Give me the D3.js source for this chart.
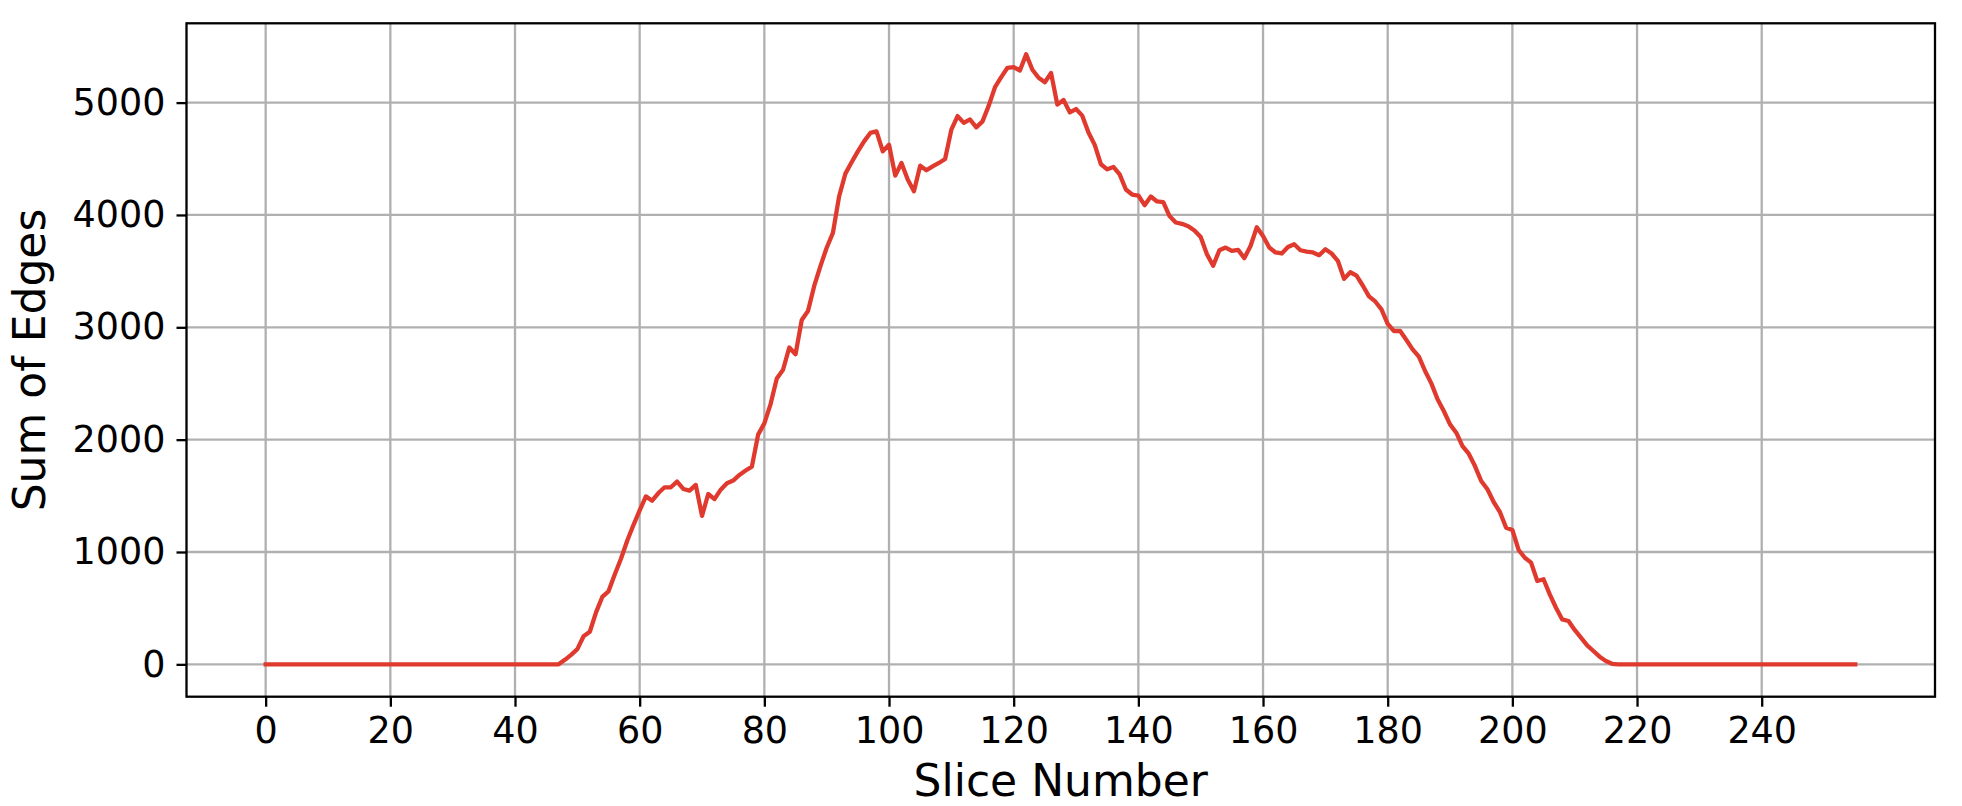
<!DOCTYPE html>
<html>
<head>
<meta charset="utf-8">
<script src="https://cdn.jsdelivr.net/npm/d3@7"></script>
<style>
  html, body { margin: 0; padding: 0; background: #fff; }
  svg text { font-family: "DejaVu Sans", sans-serif; fill: #000; }
</style>
</head>
<body>
<div class="chart"></div>
<script>
let edgeSums = [
  0, 0, 0, 0, 0, 0, 0, 0, 0, 0,
  0, 0, 0, 0, 0, 0, 0, 0, 0, 0,
  0, 0, 0, 0, 0, 0, 0, 0, 0, 0,
  0, 0, 0, 0, 0, 0, 0, 0, 0, 0,
  0, 0, 0, 0, 0, 0, 0, 0, 40, 85,
  135, 250, 290, 463, 600, 650, 800, 940, 1100, 1240,
  1370, 1495, 1457, 1525, 1576, 1576, 1627, 1561, 1546, 1597,
  1322, 1516, 1471, 1555, 1612, 1636, 1686, 1725, 1760, 2045,
  2145, 2317, 2545, 2622, 2820, 2760, 3065, 3145, 3368, 3545,
  3708, 3841, 4167, 4368, 4469, 4566, 4655, 4730, 4744, 4566,
  4625, 4350, 4463, 4315, 4211, 4439, 4398, 4433, 4463, 4498,
  4760, 4880, 4820, 4850, 4780, 4833, 4973, 5137, 5227, 5310,
  5316, 5286, 5430, 5293, 5221, 5182, 5263, 4982, 5024, 4913,
  4943, 4884, 4734, 4624, 4451, 4406, 4427, 4361, 4227, 4182,
  4173, 4087, 4164, 4120, 4114, 3990, 3933, 3921, 3900, 3862,
  3803, 3651, 3548, 3686, 3710, 3680, 3689, 3616, 3724, 3891,
  3812, 3710, 3666, 3657, 3715, 3739, 3686, 3674, 3666, 3642,
  3695, 3657, 3592, 3431, 3490, 3460, 3372, 3276, 3230, 3160,
  3030, 2967, 2967, 2887, 2804, 2739, 2611, 2501, 2359, 2255,
  2136, 2062, 1943, 1875, 1765, 1632, 1558, 1445, 1356, 1216,
  1196, 1018, 949, 905, 742, 757, 623, 504, 400, 386,
  306, 237, 169, 119, 68, 30, 5, 0, 0, 0,
  0, 0, 0, 0, 0, 0, 0, 0, 0, 0,
  0, 0, 0, 0, 0, 0, 0, 0, 0, 0,
  0, 0, 0, 0, 0, 0, 0, 0, 0, 0,
  0, 0, 0, 0, 0, 0
]
let xTicks = [0, 20, 40, 60, 80, 100, 120, 140, 160, 180, 200, 220, 240]
let yTicks = [0, 1000, 2000, 3000, 4000, 5000]
let xLabel = "Slice Number"
let yLabel = "Sum of Edges"

let width = 1962
let height = 806
let plotLeft = 186.5, plotRight = 1935, plotTop = 23.3, plotBottom = 696.7

let svg = d3.select(".chart")
  .append("svg")
  .attr("width", width)
  .attr("height", height)

let x = d3.scaleLinear().domain([-12.7, 267.8]).range([plotLeft, plotRight])
let y = d3.scaleLinear().domain([-288, 5706]).range([plotBottom, plotTop])

// grid
svg.append("g")
  .selectAll("line")
  .data(xTicks)
  .enter()
  .append("line")
  .attr("x1", d => x(d)).attr("x2", d => x(d))
  .attr("y1", plotTop).attr("y2", plotBottom)
  .attr("stroke", "#b0b0b0")
  .attr("stroke-width", 2.3)

svg.append("g")
  .selectAll("line")
  .data(yTicks)
  .enter()
  .append("line")
  .attr("x1", plotLeft).attr("x2", plotRight)
  .attr("y1", d => y(d)).attr("y2", d => y(d))
  .attr("stroke", "#b0b0b0")
  .attr("stroke-width", 2.3)

let line = d3.line()
  .x((d, i) => x(i))
  .y(d => y(d))

svg.append("path")
  .datum(edgeSums)
  .attr("d", line)
  .attr("fill", "none")
  .attr("stroke", "#e03a2e")
  .attr("stroke-width", 4.3)
  .attr("stroke-linejoin", "round")
  .attr("stroke-linecap", "square")

let xAxis = svg.append("g")
  .attr("transform", `translate(0,${plotBottom})`)
  .call(d3.axisBottom(x).tickValues(xTicks).tickFormat(d3.format("d"))
    .tickSize(10).tickPadding(10).tickSizeOuter(0))

let yAxis = svg.append("g")
  .attr("transform", `translate(${plotLeft},0)`)
  .call(d3.axisLeft(y).tickValues(yTicks).tickFormat(d3.format("d"))
    .tickSize(10).tickPadding(11).tickSizeOuter(0))

;[xAxis, yAxis].forEach(g => {
  g.select(".domain").remove()
  g.selectAll(".tick line").attr("stroke", "#000").attr("stroke-width", 2.3)
  g.selectAll(".tick text")
    .attr("font-size", 36.5)
    .attr("font-family", "DejaVu Sans")
    .attr("fill", "#000")
})

svg.append("rect")
  .attr("x", plotLeft).attr("y", plotTop)
  .attr("width", plotRight - plotLeft).attr("height", plotBottom - plotTop)
  .attr("fill", "none")
  .attr("stroke", "#000")
  .attr("stroke-width", 2.3)

svg.append("text")
  .attr("x", (plotLeft + plotRight) / 2)
  .attr("y", 796)
  .attr("text-anchor", "middle")
  .attr("font-size", 44)
  .text(xLabel)

svg.append("text")
  .attr("transform", `translate(45,${(plotTop + plotBottom) / 2}) rotate(-90)`)
  .attr("text-anchor", "middle")
  .attr("font-size", 44)
  .text(yLabel)
</script>
</body>
</html>
